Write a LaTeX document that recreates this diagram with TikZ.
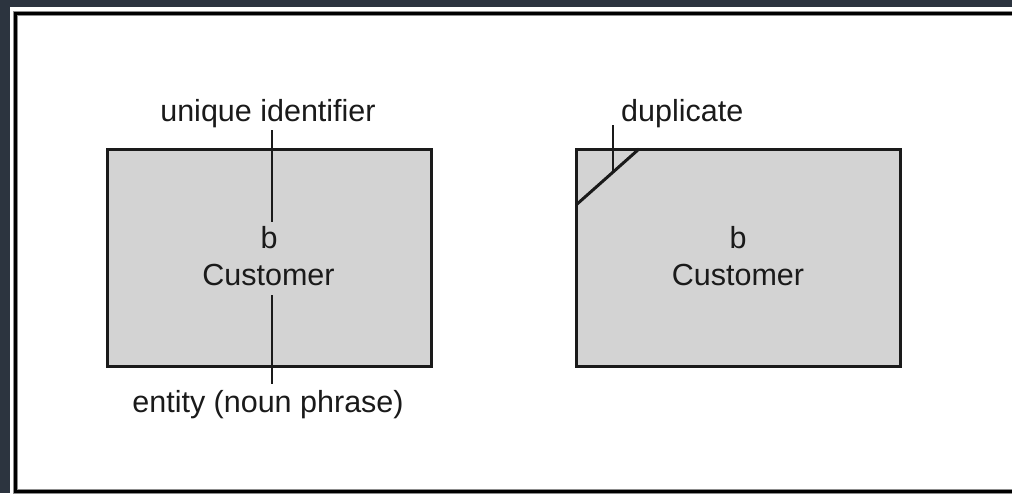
\documentclass[tikz,border=0pt]{standalone}
\usepackage{fontspec}
\setmainfont{Liberation Sans}
\definecolor{backdrop}{HTML}{2C343F}
\definecolor{entityfill}{HTML}{D3D3D3}
\definecolor{ink}{HTML}{1A1A1A}
\begin{document}
\begin{tikzpicture}[x=1pt,y=-1pt,
  entitybox/.style={draw=ink,fill=entityfill,line width=3pt,line join=miter},
  lbl/.style={text=ink,inner sep=0pt,anchor=base,font=\fontsize{30.5}{36}\selectfont},
  pointer/.style={draw=ink,line width=1.5pt},
  frameline/.style={draw=black,line width=3pt}]
  % page background and white panel
  \useasboundingbox (0,0) rectangle (1012,493);
  \fill[backdrop] (0,0) rectangle (1012,493);
  \fill[white] (10,7) rectangle (1014,495);
  \draw[frameline,draw=black!45,line width=5pt] (1020,13) -- (15,13) -- (15,491) -- (1020,491);
  \draw[frameline] (1020,13) -- (15,13) -- (15,491) -- (1020,491);

  % left entity
  \path[entitybox] (107,149) rectangle (431,366);
  \node[lbl] (idlabel) at (268,121) {unique identifier};
  \node[lbl] (bL) at (269,248) {b};
  \node[lbl] (custL) at (268.5,285) {Customer};
  \node[lbl] (entlabel) at (268,412) {entity (noun phrase)};
  \coordinate (idtop) at (272,130);
  \coordinate (idend) at (272,222);
  \coordinate (enttop) at (272,295);
  \coordinate (entend) at (272,384);
  \draw[pointer] (idtop) -- (idend);
  \draw[pointer] (enttop) -- (entend);

  % right entity with duplicate marker
  \path[entitybox] (576,149) rectangle (900,366);
  \coordinate (cutA) at (639,149);
  \coordinate (cutB) at (576,205);
  \draw[draw=ink,line width=3pt] (cutA) -- (cutB);
  \node[lbl,anchor=base west] (duplabel) at (621,121) {duplicate};
  \coordinate (duptop) at (613,125);
  \coordinate (dupend) at (613,172);
  \draw[pointer] (duptop) -- (dupend);
  \node[lbl] (bR) at (738,248) {b};
  \node[lbl] (custR) at (738,285) {Customer};
\end{tikzpicture}
\end{document}
